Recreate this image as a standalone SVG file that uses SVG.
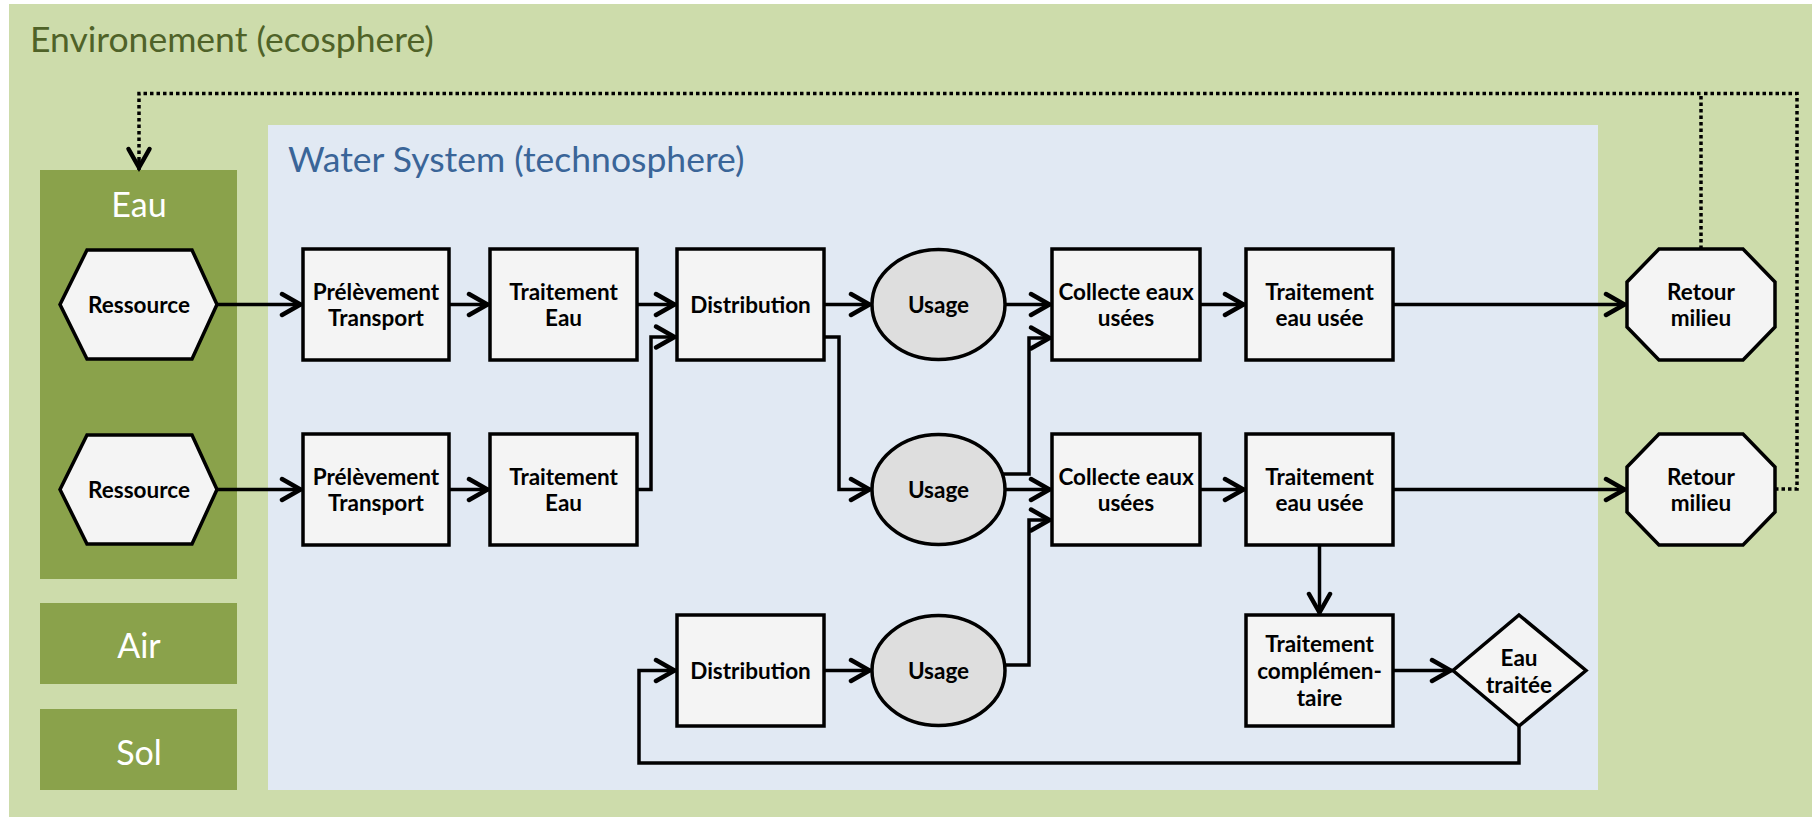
<svg xmlns="http://www.w3.org/2000/svg" width="1812" height="817" viewBox="0 0 1812 817">
  <defs>
    <style>
      .zone-title { font-family: Lato, "Liberation Sans", sans-serif; font-size: 35.5px; }
      .comp-label { font-family: Lato, "Liberation Sans", sans-serif; font-size: 34px; fill: #ffffff; text-anchor: middle; }
      .node-shape { fill: #f4f4f4; stroke: #000000; stroke-width: 3.5; stroke-linejoin: miter; }
      .usage-shape { fill: #dedede; stroke: #000000; stroke-width: 3.5; }
      .node-label { font-family: Lato, "Liberation Sans", sans-serif; font-weight: bold; font-size: 22.5px; fill: #000000; text-anchor: middle; }
      .flow { fill: none; stroke: #000000; stroke-width: 3.5; stroke-linejoin: miter; marker-end: url(#chevron); }
      .flow-plain { fill: none; stroke: #000000; stroke-width: 3.5; stroke-linejoin: miter; }
      .return-flow { fill: none; stroke: #000000; stroke-width: 3.5; stroke-dasharray: 3.5 3; }
    </style>
    <marker id="chevron" markerUnits="userSpaceOnUse" viewBox="-26 -14 30 28" markerWidth="30" markerHeight="28" refX="0" refY="0" orient="auto">
      <path d="M-21,-10.5 L-2.5,0 L-21,10.5" fill="none" stroke="#000000" stroke-width="4.5" stroke-dasharray="none" stroke-linecap="round"/>
    </marker>
  </defs>

  <!-- Ecosphere background -->
  <g id="ecosphere">
    <rect x="9" y="4" width="1803" height="813" fill="#cddcab"/>
    <text class="zone-title" x="30" y="52" fill="#4f6228">Environement (ecosphere)</text>
  </g>

  <!-- Technosphere area -->
  <g id="technosphere">
    <rect x="268" y="125" width="1330" height="665" fill="#e1e9f3"/>
    <text class="zone-title" x="288" y="172" fill="#3a6598">Water System (technosphere)</text>
  </g>

  <!-- Environmental compartments -->
  <g id="comp-eau">
    <rect x="40" y="170" width="197" height="409" fill="#8aa24b"/>
    <text class="comp-label" x="139" y="217">Eau</text>
  </g>
  <g id="comp-air">
    <rect x="40" y="603" width="197" height="81" fill="#8aa24b"/>
    <text class="comp-label" x="139" y="658">Air</text>
  </g>
  <g id="comp-sol">
    <rect x="40" y="709" width="197" height="81" fill="#8aa24b"/>
    <text class="comp-label" x="139" y="765">Sol</text>
  </g>

  <!-- Connectors -->
  <g id="connectors">
    <!-- row 1 -->
    <path class="flow" d="M217,304.5 H303"/>
    <path class="flow" d="M449,304.5 H490"/>
    <path class="flow" d="M637,304.5 H677"/>
    <path class="flow" d="M824,304.5 H872"/>
    <path class="flow" d="M1005,304.5 H1052"/>
    <path class="flow" d="M1200,304.5 H1246"/>
    <path class="flow" d="M1393,304.5 H1627"/>
    <!-- row 2 -->
    <path class="flow" d="M217,489.5 H303"/>
    <path class="flow" d="M449,489.5 H490"/>
    <path class="flow" d="M637,489.5 H651 V337 H677"/>
    <path class="flow" d="M824,337 H839 V489.5 H872"/>
    <path class="flow" d="M1002,474 H1029 V338 H1052"/>
    <path class="flow" d="M1005,489.5 H1052"/>
    <path class="flow" d="M1200,489.5 H1246"/>
    <path class="flow" d="M1393,489.5 H1627"/>
    <path class="flow" d="M1319.5,545 V615"/>
    <!-- row 3 -->
    <path class="flow" d="M1005,665 H1029 V520 H1052"/>
    <path class="flow" d="M824,670.5 H872"/>
    <path class="flow" d="M1393,670.5 H1453"/>
    <path class="flow" d="M1519,726 V763 H639 V670.5 H677"/>
    <!-- return to the water compartment -->
    <path class="return-flow" d="M1775,489 H1797 V93.5 H1701"/>
    <path class="return-flow" d="M1701,249 V93.5 H139 V158"/>
    <path class="flow-plain" d="M139,158 V170" marker-end="url(#chevron)"/>
  </g>

  <!-- Process chain 1 -->
  <g id="ressource-1">
    <polygon class="node-shape" points="60,304.5 87,250 192,250 217,304.5 192,359 87,359"/>
    <text class="node-label" x="139" y="313">Ressource</text>
  </g>
  <g id="prelevement-1">
    <rect class="node-shape" x="303" y="249" width="146" height="111"/>
    <text class="node-label" x="376" y="300">Prélèvement</text>
    <text class="node-label" x="376" y="326">Transport</text>
  </g>
  <g id="traitement-eau-1">
    <rect class="node-shape" x="490" y="249" width="147" height="111"/>
    <text class="node-label" x="563.5" y="300">Traitement</text>
    <text class="node-label" x="563.5" y="326">Eau</text>
  </g>
  <g id="distribution-1">
    <rect class="node-shape" x="677" y="249" width="147" height="111"/>
    <text class="node-label" x="750.5" y="313">Distribution</text>
  </g>
  <g id="usage-1">
    <ellipse class="usage-shape" cx="938.5" cy="304.5" rx="66.5" ry="55"/>
    <text class="node-label" x="938.5" y="313">Usage</text>
  </g>
  <g id="collecte-1">
    <rect class="node-shape" x="1052" y="249" width="148" height="111"/>
    <text class="node-label" x="1126" y="300">Collecte eaux</text>
    <text class="node-label" x="1126" y="326">usées</text>
  </g>
  <g id="traitement-usee-1">
    <rect class="node-shape" x="1246" y="249" width="147" height="111"/>
    <text class="node-label" x="1319.5" y="300">Traitement</text>
    <text class="node-label" x="1319.5" y="326">eau usée</text>
  </g>
  <g id="retour-1">
    <polygon class="node-shape" points="1659,249 1743,249 1775,282 1775,327 1743,360 1659,360 1627,327 1627,282"/>
    <text class="node-label" x="1701" y="300">Retour</text>
    <text class="node-label" x="1701" y="326">milieu</text>
  </g>

  <!-- Process chain 2 -->
  <g id="ressource-2">
    <polygon class="node-shape" points="60,489.5 87,435 192,435 217,489.5 192,544 87,544"/>
    <text class="node-label" x="139" y="498">Ressource</text>
  </g>
  <g id="prelevement-2">
    <rect class="node-shape" x="303" y="434" width="146" height="111"/>
    <text class="node-label" x="376" y="485">Prélèvement</text>
    <text class="node-label" x="376" y="511">Transport</text>
  </g>
  <g id="traitement-eau-2">
    <rect class="node-shape" x="490" y="434" width="147" height="111"/>
    <text class="node-label" x="563.5" y="485">Traitement</text>
    <text class="node-label" x="563.5" y="511">Eau</text>
  </g>
  <g id="usage-2">
    <ellipse class="usage-shape" cx="938.5" cy="489.5" rx="66.5" ry="55"/>
    <text class="node-label" x="938.5" y="498">Usage</text>
  </g>
  <g id="collecte-2">
    <rect class="node-shape" x="1052" y="434" width="148" height="111"/>
    <text class="node-label" x="1126" y="485">Collecte eaux</text>
    <text class="node-label" x="1126" y="511">usées</text>
  </g>
  <g id="traitement-usee-2">
    <rect class="node-shape" x="1246" y="434" width="147" height="111"/>
    <text class="node-label" x="1319.5" y="485">Traitement</text>
    <text class="node-label" x="1319.5" y="511">eau usée</text>
  </g>
  <g id="retour-2">
    <polygon class="node-shape" points="1659,434 1743,434 1775,467 1775,512 1743,545 1659,545 1627,512 1627,467"/>
    <text class="node-label" x="1701" y="485">Retour</text>
    <text class="node-label" x="1701" y="511">milieu</text>
  </g>

  <!-- Reuse loop -->
  <g id="distribution-3">
    <rect class="node-shape" x="677" y="615" width="147" height="111"/>
    <text class="node-label" x="750.5" y="679">Distribution</text>
  </g>
  <g id="usage-3">
    <ellipse class="usage-shape" cx="938.5" cy="670.5" rx="66.5" ry="55"/>
    <text class="node-label" x="938.5" y="679">Usage</text>
  </g>
  <g id="traitement-complementaire">
    <rect class="node-shape" x="1246" y="615" width="147" height="111"/>
    <text class="node-label" x="1319.5" y="652">Traitement</text>
    <text class="node-label" x="1319.5" y="679">complémen-</text>
    <text class="node-label" x="1319.5" y="706">taire</text>
  </g>
  <g id="eau-traitee">
    <polygon class="node-shape" points="1519,615 1586,670.5 1519,726 1453,670.5"/>
    <text class="node-label" x="1519" y="666">Eau</text>
    <text class="node-label" x="1519" y="693">traitée</text>
  </g>
</svg>
